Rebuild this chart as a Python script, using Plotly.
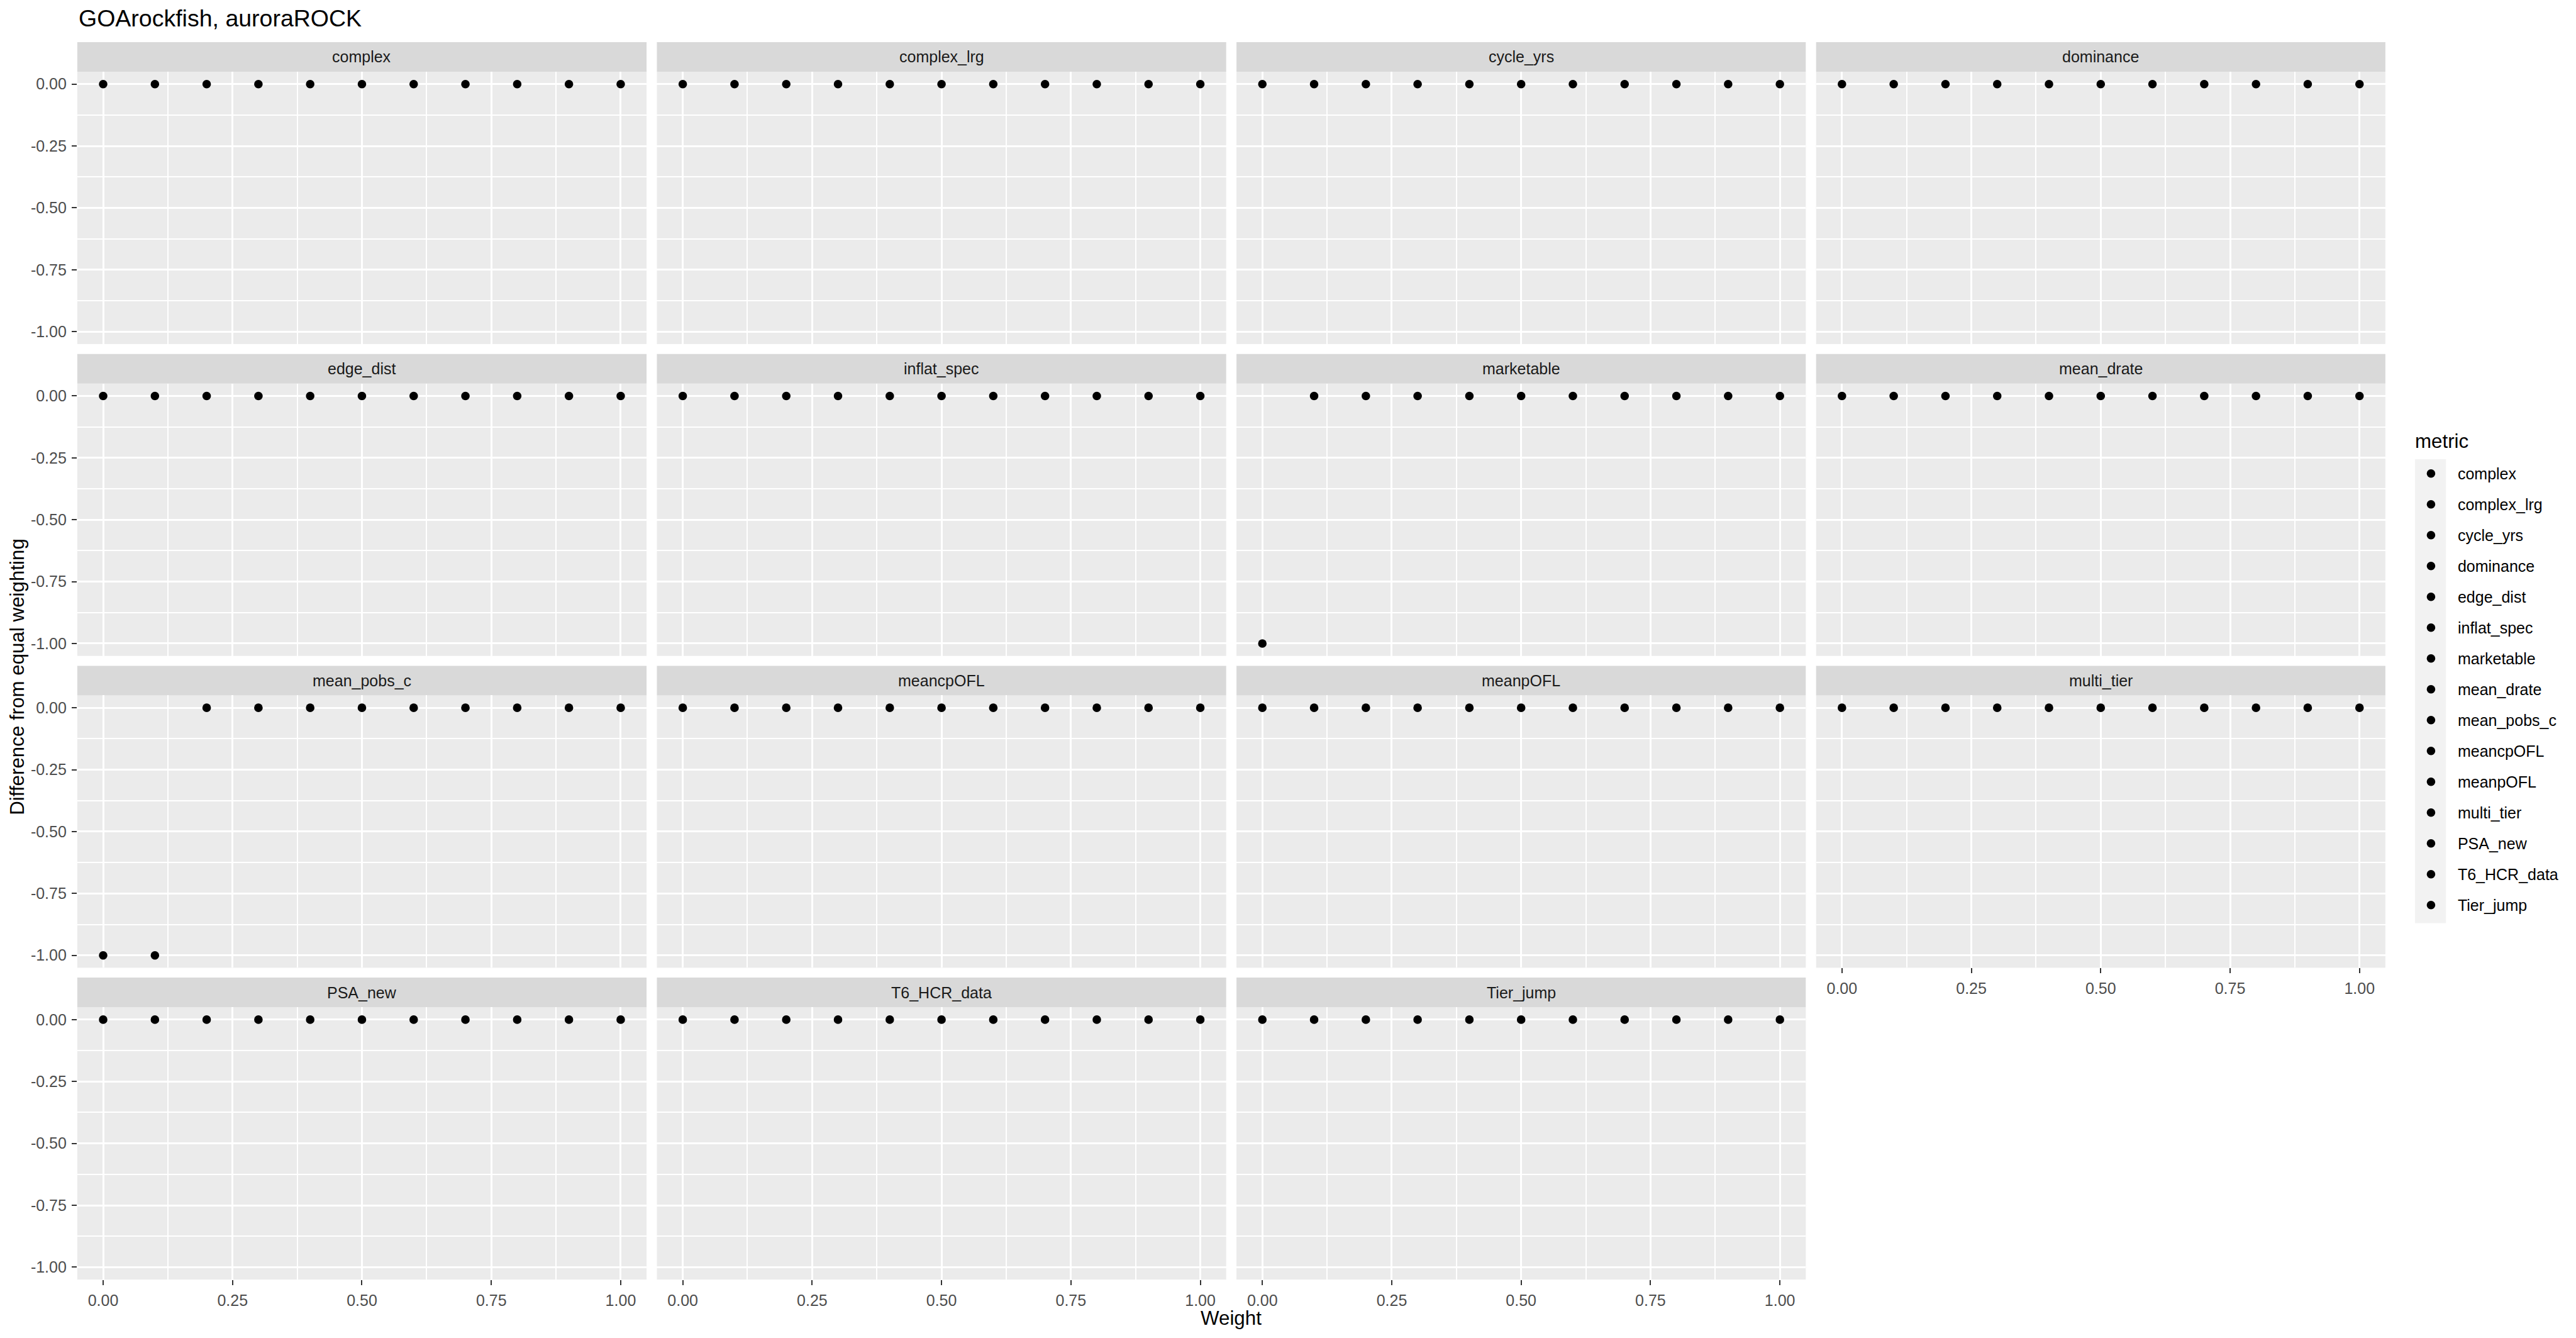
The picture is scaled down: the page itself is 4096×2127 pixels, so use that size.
import plotly.graph_objects as go

# ---------------- data ----------------
metrics = ["complex", "complex_lrg", "cycle_yrs", "dominance", "edge_dist",
           "inflat_spec", "marketable", "mean_drate", "mean_pobs_c", "meancpOFL",
           "meanpOFL", "multi_tier", "PSA_new", "T6_HCR_data", "Tier_jump"]
weights = [0.0, 0.1, 0.2, 0.3, 0.4, 0.5, 0.6, 0.7, 0.8, 0.9, 1.0]

diff_complex     = [0, 0, 0, 0, 0, 0, 0, 0, 0, 0, 0]
diff_complex_lrg = [0, 0, 0, 0, 0, 0, 0, 0, 0, 0, 0]
diff_cycle_yrs   = [0, 0, 0, 0, 0, 0, 0, 0, 0, 0, 0]
diff_dominance   = [0, 0, 0, 0, 0, 0, 0, 0, 0, 0, 0]
diff_edge_dist   = [0, 0, 0, 0, 0, 0, 0, 0, 0, 0, 0]
diff_inflat_spec = [0, 0, 0, 0, 0, 0, 0, 0, 0, 0, 0]
diff_marketable  = [-1, 0, 0, 0, 0, 0, 0, 0, 0, 0, 0]
diff_mean_drate  = [0, 0, 0, 0, 0, 0, 0, 0, 0, 0, 0]
diff_mean_pobs_c = [-1, -1, 0, 0, 0, 0, 0, 0, 0, 0, 0]
diff_meancpOFL   = [0, 0, 0, 0, 0, 0, 0, 0, 0, 0, 0]
diff_meanpOFL    = [0, 0, 0, 0, 0, 0, 0, 0, 0, 0, 0]
diff_multi_tier  = [0, 0, 0, 0, 0, 0, 0, 0, 0, 0, 0]
diff_PSA_new     = [0, 0, 0, 0, 0, 0, 0, 0, 0, 0, 0]
diff_T6_HCR_data = [0, 0, 0, 0, 0, 0, 0, 0, 0, 0, 0]
diff_Tier_jump   = [0, 0, 0, 0, 0, 0, 0, 0, 0, 0, 0]

x_tickvals = [0.0, 0.25, 0.5, 0.75, 1.0]
x_ticktext = ["0.00", "0.25", "0.50", "0.75", "1.00"]
y_tickvals = [0.0, -0.25, -0.5, -0.75, -1.0]
y_ticktext = ["0.00", "-0.25", "-0.50", "-0.75", "-1.00"]

title_text = "GOArockfish, auroraROCK"
x_title = "Weight"
y_title = "Difference from equal weighting"
legend_title = "metric"

diffs = [diff_complex, diff_complex_lrg, diff_cycle_yrs, diff_dominance,
         diff_edge_dist, diff_inflat_spec, diff_marketable, diff_mean_drate,
         diff_mean_pobs_c, diff_meancpOFL, diff_meanpOFL, diff_multi_tier,
         diff_PSA_new, diff_T6_HCR_data, diff_Tier_jump]

# ---------------- layout geometry (reference pixel space 6000 x 3115) ----------------
REF_W, REF_H = 6000.0, 3115.0
OUT_W, OUT_H = 4096, 2127

col_x0 = [180, 1530, 2880, 4230]
panel_w = 1326
strip_top0 = 98
strip_h = 69
panel_h = 634
row_pitch = 726
FONT = "Liberation Sans, Arial, sans-serif"


def px(x):
    return x / REF_W


def py(y):
    return 1 - y / REF_H


fig = go.Figure()
layout = {}
shapes = []
annotations = []

for i, (m, vals) in enumerate(zip(metrics, diffs)):
    r, c = divmod(i, 4)
    ax = "" if i == 0 else str(i + 1)
    x0 = col_x0[c]
    st = strip_top0 + row_pitch * r
    pt = st + strip_h
    pb = pt + panel_h
    show_x = (i + 4) >= len(metrics)   # no panel below -> draw x axis
    show_y = (c == 0)

    fig.add_trace(go.Scatter(
        x=weights, y=vals, mode="markers", name=m,
        legendgroup=m, showlegend=True,
        marker=dict(color="black", size=13.6, line=dict(width=0)),
        xaxis="x" + ax, yaxis="y" + ax, cliponaxis=False,
    ))

    layout["xaxis" + ax] = dict(
        domain=[px(x0), px(x0 + panel_w)], anchor="y" + ax,
        range=[-0.05, 1.05], fixedrange=True,
        tickvals=x_tickvals, ticktext=x_ticktext,
        showticklabels=show_x,
        ticks="outside" if show_x else "", ticklen=8, tickwidth=1.5, tickcolor="#333333",
        tickfont=dict(family=FONT, size=25, color="#4D4D4D"),
        ticklabelstandoff=3,
        showgrid=True, gridcolor="white", gridwidth=3,
        zeroline=False, showline=False,
        minor=dict(tickvals=[0.125, 0.375, 0.625, 0.875], showgrid=True,
                   gridcolor="white", gridwidth=1.5, ticks=""),
    )
    layout["yaxis" + ax] = dict(
        domain=[py(pb), py(pt)], anchor="x" + ax,
        range=[-1.05, 0.05], fixedrange=True,
        tickvals=y_tickvals, ticktext=y_ticktext,
        showticklabels=show_y,
        ticks="outside" if show_y else "", ticklen=8, tickwidth=1.5, tickcolor="#333333",
        tickfont=dict(family=FONT, size=25, color="#4D4D4D"),
        ticklabelstandoff=3,
        showgrid=True, gridcolor="white", gridwidth=3,
        zeroline=False, showline=False,
        minor=dict(tickvals=[-0.125, -0.375, -0.625, -0.875], showgrid=True,
                   gridcolor="white", gridwidth=1.5, ticks=""),
    )

    # facet strip
    shapes.append(dict(type="rect", xref="paper", yref="paper", layer="below",
                       x0=px(x0), x1=px(x0 + panel_w), y0=py(pt), y1=py(st),
                       fillcolor="#D9D9D9", line=dict(width=0)))
    annotations.append(dict(text=m, xref="paper", yref="paper",
                            x=px(x0 + panel_w / 2), y=py(st + strip_h / 2),
                            xanchor="center", yanchor="middle", showarrow=False,
                            font=dict(family=FONT, size=25, color="#1A1A1A")))

# legend key background
key_top, key_h = 1069, 72
shapes.append(dict(type="rect", xref="paper", yref="paper", layer="below",
                   x0=px(5625), x1=px(5697), y0=py(key_top + key_h * len(metrics)), y1=py(key_top),
                   fillcolor="#F2F2F2", line=dict(width=0)))

# title, axis titles, legend title
annotations.append(dict(text=title_text, xref="paper", yref="paper",
                        x=px(180), y=py(43), xanchor="left", yanchor="middle",
                        showarrow=False,
                        font=dict(family=FONT, size=37.5, color="black")))
annotations.append(dict(text=x_title, xref="paper", yref="paper",
                        x=px(2868), y=py(3069), xanchor="center", yanchor="middle",
                        showarrow=False,
                        font=dict(family=FONT, size=31.3, color="black")))
annotations.append(dict(text=y_title, xref="paper", yref="paper",
                        x=px(40), y=py(1575), xanchor="center", yanchor="middle",
                        textangle=-90, showarrow=False,
                        font=dict(family=FONT, size=31.3, color="black")))
annotations.append(dict(text=legend_title, xref="paper", yref="paper",
                        x=px(5622), y=py(1027), xanchor="left", yanchor="middle",
                        showarrow=False,
                        font=dict(family=FONT, size=31.3, color="black")))

layout.update(dict(
    width=OUT_W, height=OUT_H,
    margin=dict(l=0, r=0, t=0, b=0),
    paper_bgcolor="white", plot_bgcolor="#EBEBEB",
    shapes=shapes, annotations=annotations,
    showlegend=True,
    legend=dict(
        x=px(5600), y=py(1069), xanchor="left", yanchor="top",
        font=dict(family=FONT, size=25, color="black"),
        bgcolor="rgba(0,0,0,0)", borderwidth=0,
        tracegroupgap=13.5, traceorder="grouped", itemsizing="trace",
        itemwidth=75,
    ),
    hovermode=False,
))

fig.update_layout(**layout)
fig.write_html("out.html")
